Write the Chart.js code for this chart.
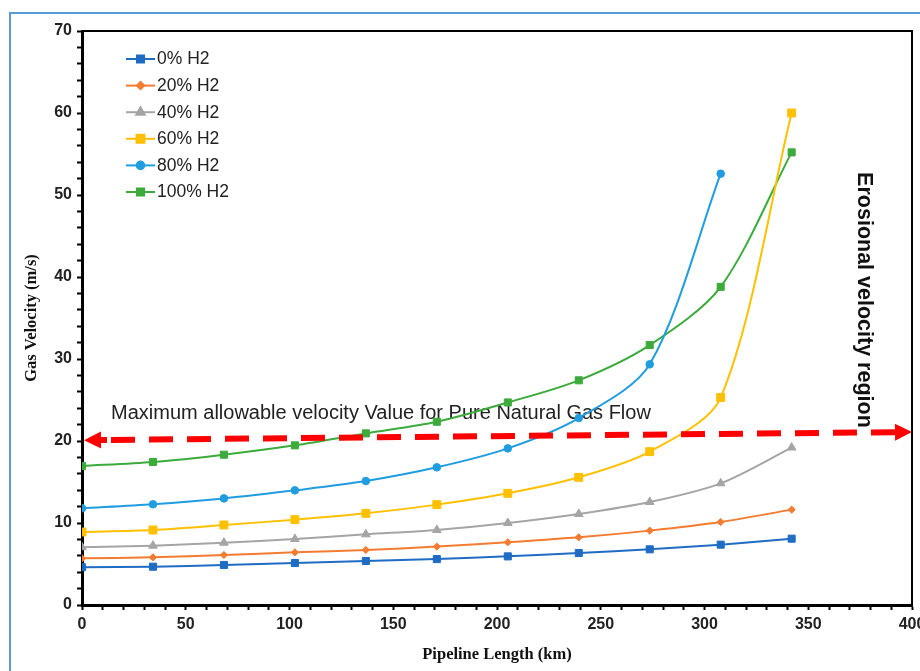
<!DOCTYPE html>
<html>
<head>
<meta charset="utf-8">
<script src="https://cdn.jsdelivr.net/npm/chart.js@4.4.1/dist/chart.umd.min.js"></script>
<style>
  html, body { margin: 0; padding: 0; background: #fff; }
  #wrap { position: relative; width: 920px; height: 671px; overflow: hidden; }
  #frame { position: absolute; left: 9px; top: 12px; width: 960px; height: 720px;
           border-left: 2px solid #5b9bd5; border-top: 2px solid #5b9bd5; }
  canvas { position: absolute; left: 0; top: 0; }
</style>
</head>
<body>
<div id="wrap">
  <div id="frame"></div>
  <canvas id="chart" width="920" height="671"></canvas>
</div>
<script>
// pipeline length (km) at each calculation point
var lengthKm = [0, 34.2, 68.4, 102.6, 136.8, 171, 205.2, 239.4, 273.6, 307.8, 342];

var seriesLabels = ['0% H2', '20% H2', '40% H2', '60% H2', '80% H2', '100% H2'];

// gas velocity (m/s)
var h2_0   = [4.6, 4.67, 4.88, 5.12, 5.37, 5.6, 5.93, 6.34, 6.79, 7.36, 8.09];
var h2_20  = [5.69, 5.81, 6.1, 6.42, 6.71, 7.12, 7.65, 8.25, 9.07, 10.12, 11.63];
var h2_40  = [7.03, 7.24, 7.6, 8.05, 8.62, 9.15, 10.0, 11.1, 12.56, 14.84, 19.2];
var h2_60  = [8.9, 9.15, 9.76, 10.41, 11.18, 12.24, 13.62, 15.57, 18.7, 25.3, 60.0];
var h2_80  = [11.79, 12.28, 13.0, 13.98, 15.12, 16.79, 19.1, 22.8, 29.35, 52.6];
var h2_100 = [16.95, 17.44, 18.33, 19.47, 20.93, 22.35, 24.7, 27.4, 31.7, 38.8, 55.2];

// maximum allowable velocity arrow (start / end)
var limitKm = [0, 400];
var limitVelocity = [20.1, 21.1];

var colors = ['#1f6cc4', '#f47b30', '#a5a5a5', '#ffc000', '#1f9de0', '#3cab3c'];
var pointStyles = ['rect', 'rectRot', 'triangle', 'rect', 'circle', 'rect'];
var pointSizes = [5, 3.6, 5, 5.6, 3.8, 5];

function toPoints(values) {
    return values.map(function(v, i) {
        return { x: lengthKm[i], y: v };
    });
}

var allSeries = [h2_0, h2_20, h2_40, h2_60, h2_80, h2_100];

var datasets = allSeries.map(function(values, i) {
    return {
        label: seriesLabels[i],
        data: toPoints(values),
        borderColor: colors[i],
        backgroundColor: colors[i],
        borderWidth: 2,
        pointStyle: pointStyles[i],
        pointRadius: pointSizes[i],
        pointBorderWidth: 1,
        tension: 0.3
    };
});

var tickFont = { family: 'Liberation Sans, Arial, sans-serif', size: 16, weight: 'bold' };
var titleFont = { family: 'Liberation Serif, Times New Roman, serif', size: 16.5, weight: 'bold' };

// black box around the plot area (top and right sides)
var plotBox = {
    id: 'plotBox',
    afterDraw: function(chart) {
        var a = chart.chartArea, ctx = chart.ctx;
        ctx.save();
        ctx.strokeStyle = '#000';
        ctx.lineWidth = 2;
        ctx.beginPath();
        ctx.moveTo(a.left, a.top);
        ctx.lineTo(a.right, a.top);
        ctx.lineTo(a.right, a.bottom);
        ctx.stroke();
        ctx.restore();
    }
};

// annotation texts, drawn under the curves
var notes = {
    id: 'notes',
    beforeDatasetsDraw: function(chart) {
        var xs = chart.scales.x, ys = chart.scales.y, ctx = chart.ctx;
        ctx.save();
        ctx.fillStyle = '#222';
        ctx.font = '20px "Liberation Sans", Arial, sans-serif';
        ctx.textAlign = 'left';
        ctx.textBaseline = 'middle';
        ctx.fillText('Maximum allowable velocity Value for Pure Natural Gas Flow',
            xs.getPixelForValue(14), ys.getPixelForValue(23.3));

        ctx.translate(xs.getPixelForValue(376.9), ys.getPixelForValue(37.2));
        ctx.rotate(Math.PI / 2);
        ctx.textAlign = 'center';
        ctx.fillStyle = '#111';
        ctx.font = 'bold 21.5px "Liberation Sans", Arial, sans-serif';
        ctx.fillText('Erosional velocity region', 0, 0);
        ctx.restore();
    }
};

// red dashed double arrow
var limitArrow = {
    id: 'limitArrow',
    afterDatasetsDraw: function(chart) {
        var xs = chart.scales.x, ys = chart.scales.y, ctx = chart.ctx;
        var x0 = xs.getPixelForValue(limitKm[0]) + 2, y0 = ys.getPixelForValue(limitVelocity[0]);
        var x1 = xs.getPixelForValue(limitKm[1]), y1 = ys.getPixelForValue(limitVelocity[1]);
        var ang = Math.atan2(y1 - y0, x1 - x0);
        var head = 17, half = 8.5;
        var c = Math.cos(ang), s = Math.sin(ang);

        ctx.save();
        ctx.strokeStyle = '#ff0000';
        ctx.fillStyle = '#ff0000';
        ctx.lineWidth = 6;
        ctx.setLineDash([24, 14]);
        ctx.beginPath();
        ctx.moveTo(x0 + c * (head + 10), y0 + s * (head + 10));
        ctx.lineTo(x1 - c * head, y1 - s * head);
        ctx.stroke();
        ctx.setLineDash([]);
        ctx.beginPath();
        ctx.moveTo(x0 + c * head * 0.8, y0 + s * head * 0.8);
        ctx.lineTo(x0 + c * (head + 6), y0 + s * (head + 6));
        ctx.stroke();

        function arrowHead(tx, ty, dir) {
            var bx = tx - dir * c * head, by = ty - dir * s * head;
            ctx.beginPath();
            ctx.moveTo(tx, ty);
            ctx.lineTo(bx - s * half, by + c * half);
            ctx.lineTo(bx + s * half, by - c * half);
            ctx.closePath();
            ctx.fill();
        }
        arrowHead(x0, y0, -1);
        arrowHead(x1, y1, 1);
        ctx.restore();
    }
};

// legend with line + marker, top left inside the plot
var lineLegend = {
    id: 'lineLegend',
    afterDraw: function(chart) {
        var ctx = chart.ctx;
        ctx.save();
        chart.data.datasets.forEach(function(ds, i) {
            var y = 59 + i * 26.6;
            ctx.strokeStyle = ds.borderColor;
            ctx.lineWidth = 2;
            ctx.beginPath();
            ctx.moveTo(126, y);
            ctx.lineTo(155, y);
            ctx.stroke();
            ctx.fillStyle = ds.backgroundColor;
            Chart.helpers.drawPoint(ctx, {
                pointStyle: ds.pointStyle,
                radius: ds.pointRadius,
                borderWidth: 1,
                rotation: 0
            }, 140.5, y);
            ctx.fillStyle = '#222';
            ctx.font = '17.5px "Liberation Sans", Arial, sans-serif';
            ctx.textAlign = 'left';
            ctx.textBaseline = 'middle';
            ctx.fillText(ds.label, 157, y + 0.5);
        });
        ctx.restore();
    }
};

new Chart(document.getElementById('chart').getContext('2d'), {
    type: 'line',
    data: { datasets: datasets },
    options: {
        responsive: false,
        animation: false,
        layout: { padding: { left: 0, top: 31, right: 8, bottom: 0 } },
        plugins: {
            legend: { display: false },
            tooltip: { enabled: false }
        },
        scales: {
            x: {
                type: 'linear',
                min: 0,
                max: 400,
                ticks: {
                    stepSize: 10,
                    autoSkip: false,
                    maxRotation: 0,
                    padding: 5,
                    color: '#222',
                    font: tickFont,
                    callback: function(v) { return v % 50 === 0 ? v : ''; }
                },
                grid: { drawOnChartArea: false, tickLength: 5, tickColor: '#000', tickWidth: 2 },
                border: { color: '#000', width: 3 },
                title: {
                    display: true,
                    text: 'Pipeline Length (km)',
                    color: '#111',
                    font: titleFont,
                    padding: { top: 0, bottom: 6 }
                },
                afterFit: function(scale) {
                    scale.height = 66;
                    scale.paddingLeft = 0;
                    scale.paddingRight = 0;
                }
            },
            y: {
                min: 0,
                max: 70,
                ticks: {
                    stepSize: 2,
                    autoSkip: false,
                    padding: 5,
                    color: '#222',
                    font: tickFont,
                    callback: function(v) { return v % 10 === 0 ? v : ''; }
                },
                grid: { drawOnChartArea: false, tickLength: 5, tickColor: '#000', tickWidth: 2 },
                border: { color: '#000', width: 3 },
                title: {
                    display: true,
                    text: 'Gas Velocity (m/s)',
                    color: '#111',
                    font: titleFont,
                    padding: { top: 22, bottom: 0 }
                },
                afterFit: function(scale) {
                    scale.width = 82;
                    scale.paddingTop = 0;
                    scale.paddingBottom = 0;
                }
            }
        }
    },
    plugins: [notes, limitArrow, plotBox, lineLegend]
});
</script>
</body>
</html>
